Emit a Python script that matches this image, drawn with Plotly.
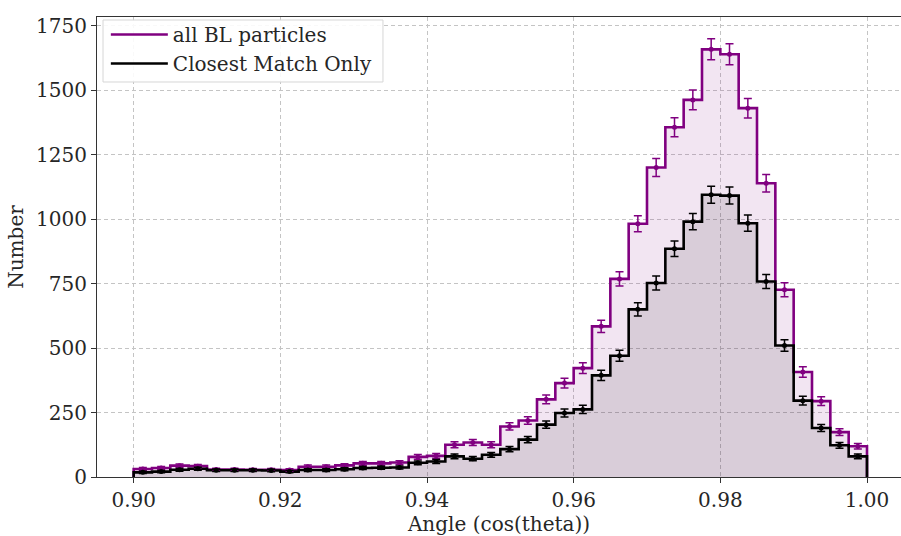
import numpy as np
import plotly.graph_objects as go

# 40 bins of width 0.0025 spanning cos(theta) = 0.90 .. 1.00
bin_edges = np.linspace(0.90, 1.00, 41)

all_bl_counts = [
    31, 35, 44, 42, 29, 29, 28, 28, 27, 40,
    40, 45, 53, 53, 56, 78, 82, 125, 134, 125,
    196, 219, 301, 364, 422, 584, 768, 982, 1200, 1356,
    1462, 1658, 1639, 1430, 1139, 726, 407, 294, 174, 119,
]
closest_counts = [
    18, 21, 28, 32, 26, 26, 26, 25, 21, 27,
    27, 30, 35, 36, 37, 55, 60, 80, 71, 86,
    108, 145, 203, 248, 262, 394, 470, 650, 752, 885,
    990, 1094, 1091, 984, 758, 510, 296, 190, 123, 80,
]

x_ticks = [0.90, 0.92, 0.94, 0.96, 0.98, 1.00]
x_tick_text = ["0.90", "0.92", "0.94", "0.96", "0.98", "1.00"]
y_ticks = [0, 250, 500, 750, 1000, 1250, 1500, 1750]
y_tick_text = ["0", "250", "500", "750", "1000", "1250", "1500", "1750"]

series = [
    ("all BL particles", all_bl_counts, "#800080", "rgba(128,0,128,0.10)"),
    ("Closest Match Only", closest_counts, "#000000", "rgba(0,0,0,0.10)"),
]

FONT = "DejaVu Serif"
FS = 20
centers = 0.5 * (bin_edges[:-1] + bin_edges[1:])

fig = go.Figure()

for name, counts, color, fill in series:
    counts = np.asarray(counts, dtype=float)
    # step outline: rise from zero at the first edge, drop to zero at the last
    step_x = np.concatenate([[bin_edges[0]], bin_edges])
    step_y = np.concatenate([[0.0], counts, [0.0]])
    fig.add_trace(go.Scatter(
        x=step_x, y=step_y, mode="lines", line=dict(shape="hv", color=color, width=2.6),
        fill="tozeroy", fillcolor=fill, showlegend=False, hoverinfo="skip",
    ))

for name, counts, color, fill in series:
    counts = np.asarray(counts, dtype=float)
    # Poisson uncertainty on each bin
    fig.add_trace(go.Scatter(
        x=centers, y=counts, mode="markers",
        marker=dict(color=color, size=5),
        error_y=dict(type="data", array=np.sqrt(counts), color=color, thickness=1.5, width=4),
        showlegend=False,
    ))

for name, counts, color, fill in series:
    fig.add_trace(go.Scatter(
        x=[None], y=[None], mode="lines", name=name,
        line=dict(color=color, width=2.6),
    ))

axis_common = dict(
    showgrid=True, gridcolor="#c4c4c4", griddash="4px,3px", gridwidth=0.8,
    showline=True, linecolor="#333333", linewidth=1.2,
    ticks="outside", ticklen=5, tickwidth=1.2, tickcolor="#333333",
    tickfont=dict(family=FONT, size=FS, color="#262626"),
    zeroline=False,
)

# legend frame (white box with a light border) drawn behind the legend entries
legend_frame = dict(
    type="rect", xref="paper", yref="paper",
    x0=0.0075, x1=0.3557, y0=0.8587, y1=0.9935,
    line=dict(color="#d6d6d6", width=1), fillcolor="rgba(255,255,255,0.9)",
    layer="above",
)

fig.update_layout(
    width=901, height=536,
    margin=dict(l=97, r=0, t=17, b=59),
    paper_bgcolor="white", plot_bgcolor="white",
    font=dict(family=FONT, size=FS, color="#262626"),
    showlegend=True,
    shapes=[legend_frame],
    legend=dict(
        x=0.011, y=1.0043, xanchor="left", yanchor="top",
        bgcolor="rgba(0,0,0,0)", borderwidth=0,
        font=dict(family=FONT, size=FS, color="#262626"),
        itemwidth=57, tracegroupgap=2,
    ),
    xaxis=dict(
        range=[0.895, 1.004636], tickvals=x_ticks, ticktext=x_tick_text,
        mirror=True,
        title=dict(text="Angle (cos(theta))", font=dict(family=FONT, size=FS), standoff=2),
        **axis_common,
    ),
    yaxis=dict(
        range=[0, 1783.4], tickvals=y_ticks, ticktext=y_tick_text,
        title=dict(text="Number", font=dict(family=FONT, size=FS), standoff=6),
        **axis_common,
    ),
)

fig.write_html("out.html")
